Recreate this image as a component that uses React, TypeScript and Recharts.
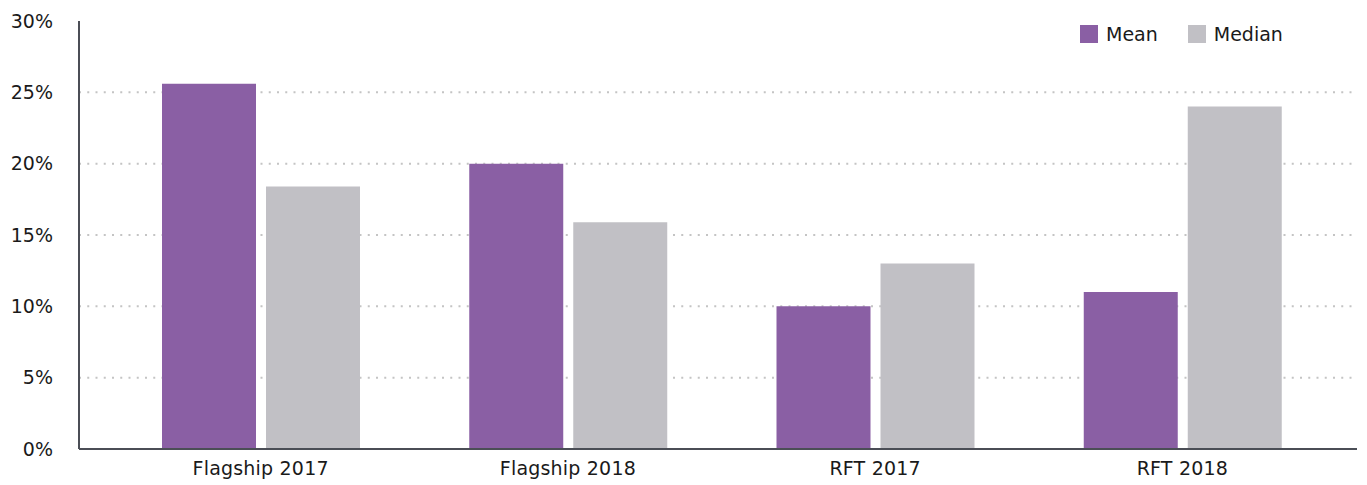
import { BarChart, Bar, XAxis, YAxis, CartesianGrid, Legend } from "recharts"

const categories = ["Flagship 2017", "Flagship 2018", "RFT 2017", "RFT 2018"]
const meanValues = [25.6, 20.0, 10.0, 11.0]
const medianValues = [18.4, 15.9, 13.0, 24.0]
const yTicks = [0, 5, 10, 15, 20, 25, 30]
const gridValues = [5, 10, 15, 20, 25]

const MEAN_COLOR = "#8a5fa4"
const MEDIAN_COLOR = "#c1c0c5"
const AXIS_COLOR = "#4b4e56"
const FONT = "'DejaVu Sans', sans-serif"

const chartData = categories.map((name, i) => ({
  name,
  mean: meanValues[i],
  median: medianValues[i],
}))

function LegendContent() {
  const items = [
    { label: "Mean", color: MEAN_COLOR },
    { label: "Median", color: MEDIAN_COLOR },
  ]
  return (
    <div style={{ display: "flex", alignItems: "center", fontFamily: FONT, fontSize: 19, color: "#1a1a1a" }}>
      {items.map((item) => (
        <div key={item.label} style={{ display: "flex", alignItems: "center", marginRight: 30 }}>
          <span style={{ width: 18, height: 18, background: item.color, marginRight: 8, display: "inline-block" }} />
          <span style={{ lineHeight: "18px" }}>{item.label}</span>
        </div>
      ))}
    </div>
  )
}

export default function App() {
  return (
    <div style={{ position: "absolute", left: 0, top: 0 }}>
      <BarChart
        width={1367}
        height={485}
        data={chartData}
        margin={{ top: 21, right: 10, left: 0, bottom: 0 }}
        barGap={10}
        barSize={94}
      >
        <CartesianGrid
          vertical={false}
          horizontalValues={gridValues}
          stroke="#c4c4c4"
          strokeWidth={2}
          strokeDasharray="2 6.25"
        />
        <XAxis
          dataKey="name"
          height={36}
          padding={{ left: 28, right: 21 }}
          tickLine={false}
          tickSize={6}
          tickMargin={7}
          axisLine={{ stroke: AXIS_COLOR, strokeWidth: 2 }}
          tick={{ fill: "#1a1a1a", fontSize: 19, fontFamily: FONT, letterSpacing: 0.2 }}
        />
        <YAxis
          width={79}
          domain={[0, 30]}
          ticks={yTicks}
          tickFormatter={(v) => `${v}%`}
          tickLine={false}
          tickSize={6}
          tickMargin={20}
          axisLine={{ stroke: AXIS_COLOR, strokeWidth: 2 }}
          tick={{ fill: "#1a1a1a", fontSize: 19, fontFamily: FONT }}
        />
        <Legend
          layout="horizontal"
          verticalAlign="middle"
          align="center"
          wrapperStyle={{ top: 25, left: 1080, width: "auto" }}
          content={() => <LegendContent />}
        />
        <Bar dataKey="mean" name="Mean" fill={MEAN_COLOR} isAnimationActive={false} />
        <Bar dataKey="median" name="Median" fill={MEDIAN_COLOR} isAnimationActive={false} />
      </BarChart>
    </div>
  )
}
